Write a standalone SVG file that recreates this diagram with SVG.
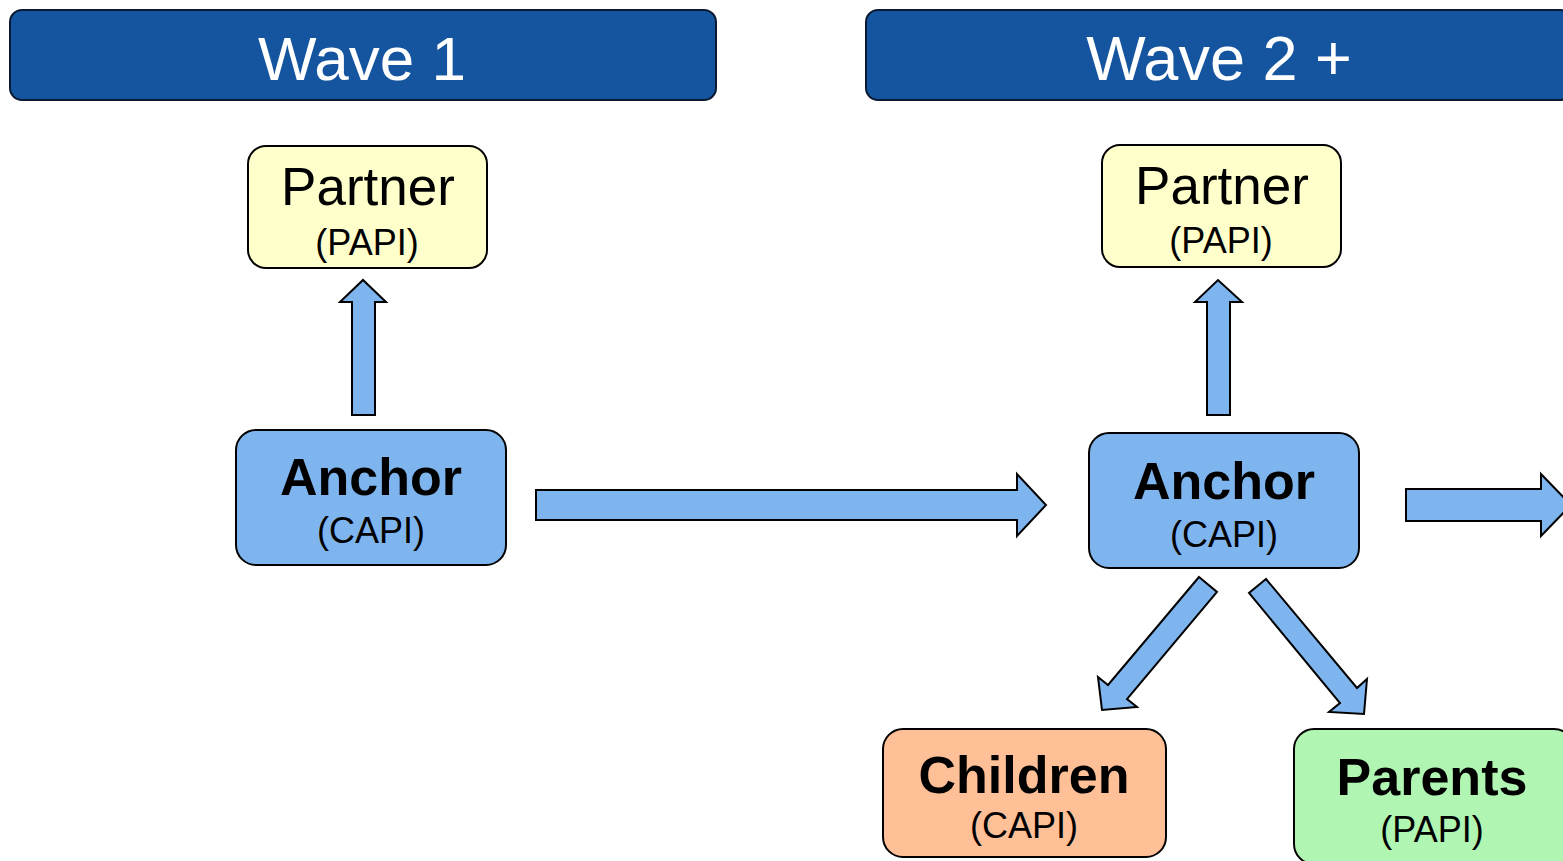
<svg xmlns="http://www.w3.org/2000/svg" width="1563" height="861" viewBox="0 0 1563 861">
<style>
.hdr{fill:#15559f;stroke:#0a1a33;stroke-width:2}
.box{stroke:#000;stroke-width:2}
.partner{fill:#ffffcc}
.anchor{fill:#7fb5ef}
.children{fill:#ffbf97}
.parents{fill:#b0f5b2}
.arr{fill:#7fb5ef;stroke:#000;stroke-width:2;stroke-linejoin:miter}
text{font-family:"Liberation Sans",Arial,sans-serif;text-anchor:middle;fill:#000}
.ht{font-size:62px;fill:#fff}
.big{font-size:53px}
.bold{font-size:52px;font-weight:bold}
.sm{font-size:36px}
</style>
<rect width="1563" height="861" fill="#fff"/>
<g id="header-wave1">
<rect class="hdr" x="10" y="10" width="706" height="90" rx="12"/>
<text class="ht" x="362" y="80">Wave 1</text>
</g>
<g id="header-wave2">
<rect class="hdr" x="866" y="10" width="706" height="90" rx="12"/>
<text class="ht" x="1219" y="80" style="font-size:63px">Wave 2 +</text>
</g>
<g id="connectors">
<polygon class="arr" points="352,415 375,415 375,302 386,302 363,280 340,302 352,302"/>
<polygon class="arr" points="1207,415 1230,415 1230,302 1242,302 1218,280 1195,302 1207,302"/>
<polygon class="arr" points="536,490 1017,490 1017,474 1046,505 1017,536 1017,520 536,520"/>
<polygon class="arr" points="1406,489 1541,489 1541,474 1571,505 1541,536 1541,521 1406,521"/>
<polygon class="arr" points="1199,577 1217,592 1127,699 1137,707 1102,710 1098,677 1108,685"/>
<polygon class="arr" points="1266,579 1249,593 1340,703 1329,712 1364,714 1367,679 1357,688"/>
</g>
<g id="partner-wave1">
<rect class="box partner" x="248" y="146" width="239" height="122" rx="18"/>
<text class="big" x="368" y="205">Partner</text>
<text class="sm" x="367" y="255">(PAPI)</text>
</g>
<g id="anchor-wave1">
<rect class="box anchor" x="236" y="430" width="270" height="135" rx="20"/>
<text class="bold" x="371" y="495">Anchor</text>
<text class="sm" x="371" y="543">(CAPI)</text>
</g>
<g id="partner-wave2">
<rect class="box partner" x="1102" y="145" width="239" height="122" rx="18"/>
<text class="big" x="1222" y="204">Partner</text>
<text class="sm" x="1221" y="253">(PAPI)</text>
</g>
<g id="anchor-wave2">
<rect class="box anchor" x="1089" y="433" width="270" height="135" rx="20"/>
<text class="bold" x="1224" y="499">Anchor</text>
<text class="sm" x="1224" y="547">(CAPI)</text>
</g>
<g id="children">
<rect class="box children" x="883" y="729" width="283" height="128" rx="20"/>
<text class="bold" x="1024" y="793">Children</text>
<text class="sm" x="1024" y="838">(CAPI)</text>
</g>
<g id="parents">
<rect class="box parents" x="1294" y="729" width="280" height="135" rx="20"/>
<text class="bold" x="1432" y="795">Parents</text>
<text class="sm" x="1432" y="842">(PAPI)</text>
</g>
</svg>
